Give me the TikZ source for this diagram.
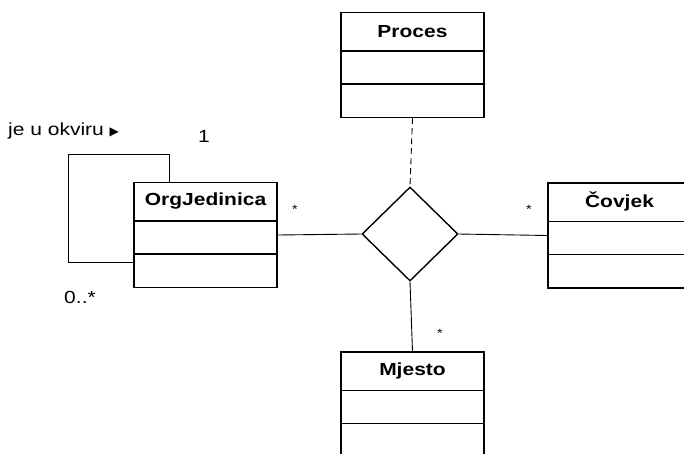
\documentclass[tikz,border=0pt]{standalone}
\usepackage{fontspec}
\setmainfont[FakeStretch=1.2]{Liberation Sans}
\newfontfamily\symfont{DejaVu Sans}
\usetikzlibrary{positioning}
\usetikzlibrary{shapes.geometric}

% UML class: box, title, two compartment lines
\newcommand{\umlclass}[3]{%
  \node[classbox] (#1) at (#2) {};
  \node[classtitle] (#1title) at ([yshift=-19.5pt]#1.north) {#3};
  \draw[compline] ([yshift=-39pt]#1.north west) -- ([yshift=-39pt]#1.north east);
  \draw[compline] ([yshift=-72pt]#1.north west) -- ([yshift=-72pt]#1.north east);%
}

\begin{document}
\begin{tikzpicture}[
x=1pt, y=-1pt,
classbox/.style={rectangle, draw=black, line width=1.4pt, minimum width=143pt, minimum height=105pt, inner sep=0pt},
classtitle/.style={font=\fontsize{17.5}{20}\selectfont\bfseries, inner sep=0pt},
compline/.style={line width=1.4pt},
relnode/.style={diamond, draw=black, line width=1.4pt, minimum width=96pt, minimum height=94pt, inner sep=0pt},
assoc/.style={line width=0.9pt},
mult/.style={font=\fontsize{17.5}{20}\selectfont, inner sep=0pt},
star/.style={font=\fontsize{12}{14}\selectfont, inner sep=0pt},
]
\useasboundingbox (0,0) rectangle (684,453);
\clip (0,0) rectangle (684,453);

% Classes
\umlclass{proces}{412.5,65}{Proces}
\umlclass{orgjed}{205.5,235}{OrgJedinica}
\umlclass{covjek}{619.5,235.5}{Čovjek}
\umlclass{mjesto}{412.5,404.5}{Mjesto}

% Association diamond
\node[relnode] (rel) at (410,234) {};

\draw[assoc] (orgjed.east) -- (rel.west);
\draw[assoc] (rel.east) -- (covjek.west);
\draw[assoc] (rel.south) -- (mjesto.north);
\draw[assoc, dash pattern=on 6pt off 4pt] (proces.south) -- (rel.north);

% Self association of OrgJedinica
\draw[assoc] ([xshift=36pt]orgjed.north west) -- ++(0,-27) -- ++(-101,0) |- ([yshift=-27pt]orgjed.west);

% Labels
\node[mult, anchor=west] (rolename) at (8,131) {je u okviru {\symfont\fontsize{12}{14}\selectfont ▶}};
\node[mult] (multone) at (204,136) {1};
\node[mult] (multmany) at (80,297) {0..*};
\node[star] (staror) at (295,209) {*};
\node[star] (starcov) at (529,209) {*};
\node[star] (starmj) at (440,333) {*};
\end{tikzpicture}
\end{document}
